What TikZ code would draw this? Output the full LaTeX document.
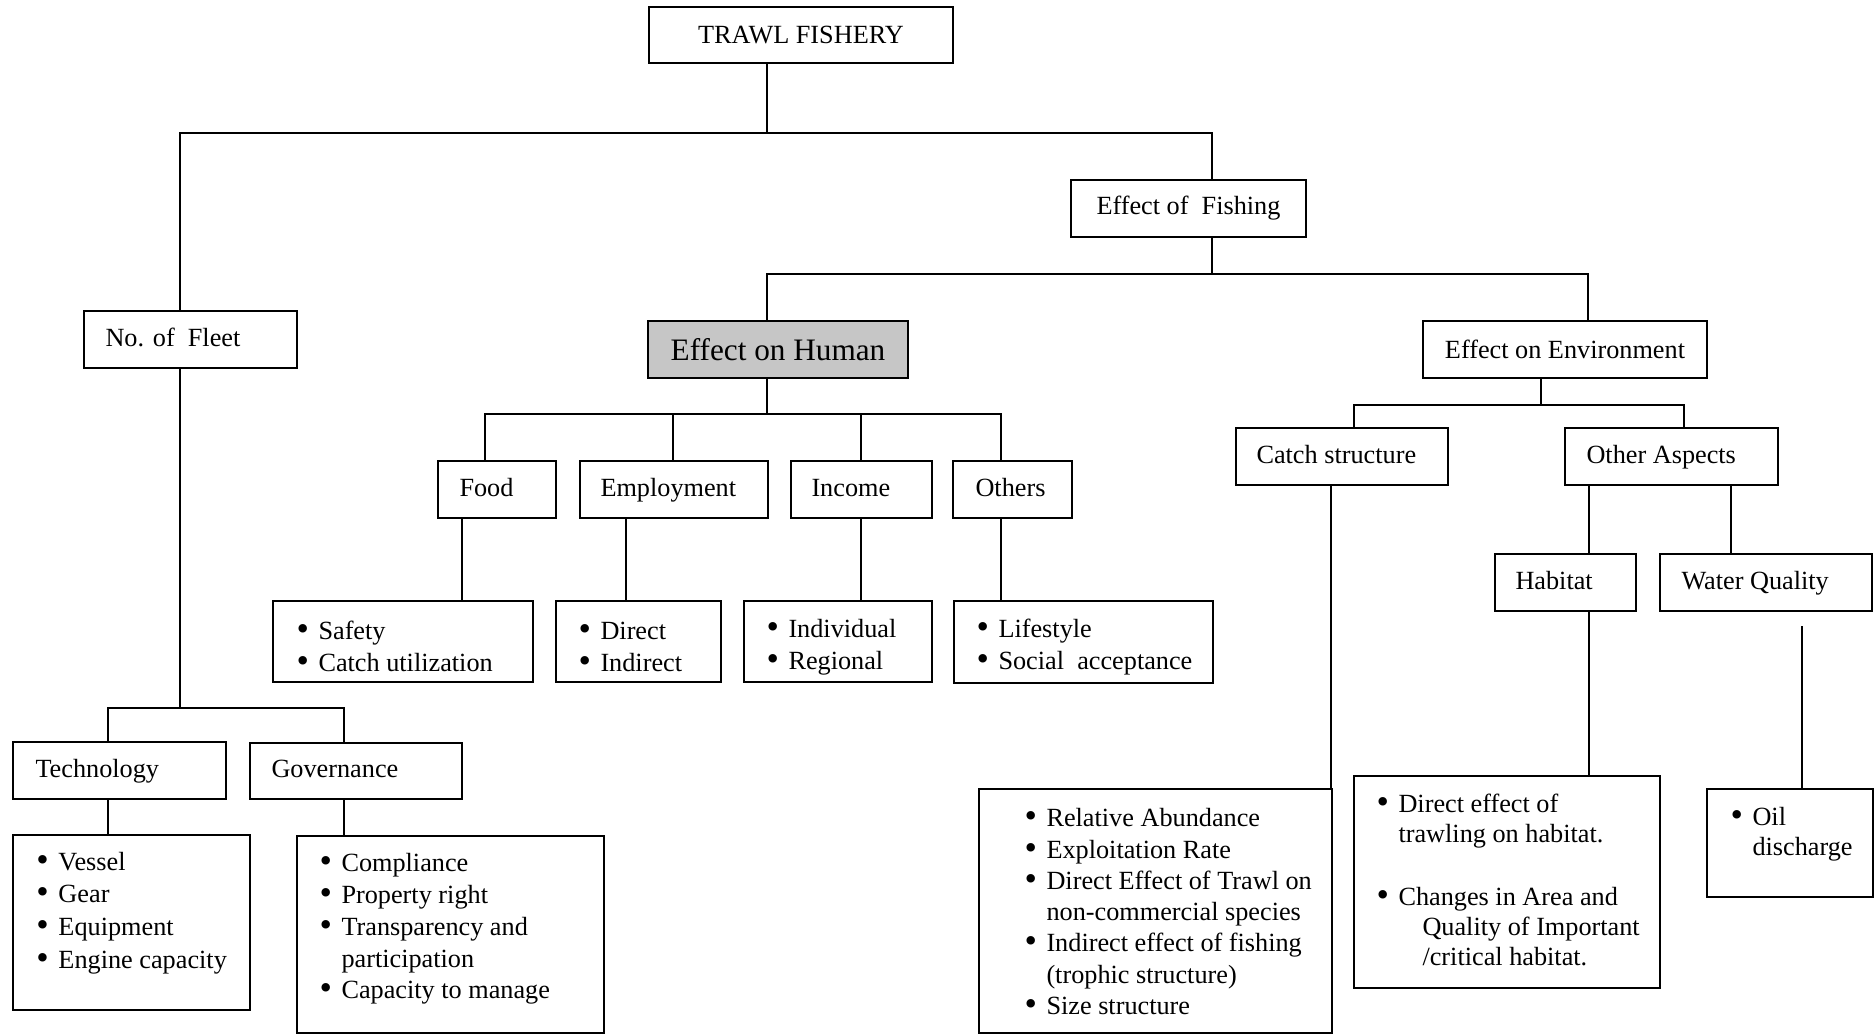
\documentclass[tikz,border=0pt]{standalone}
\usepackage{fontspec}
\setmainfont{Liberation Serif}
\newcommand\bul{\makebox[8.8pt][l]{\raisebox{-0.35pt}{\scalebox{1.35}{\textbullet}}}}
\newcommand\bcont{\hspace*{8.8pt}}
% name, x1, y1, x2, y2, extra style, content
\newcommand\mkbox[7]{%
  \pgfmathsetmacro\mbW{(#4-#2)*0.4}%
  \pgfmathsetmacro\mbH{(#5-#3)*0.4}%
  \node[box, minimum width=\mbW pt, minimum height=\mbH pt, #6] (#1) at ({(#2+#4)/2},{(#3+#5)/2}) {#7};}
\begin{document}
\begin{tikzpicture}[x=0.4pt,y=-0.4pt,
  box/.style={draw, line width=0.9pt, inner sep=0pt, align=center,
    font=\fontsize{10.5}{12.7}\selectfont},
  txt/.style={anchor=west, inner sep=0pt, align=left,
    font=\fontsize{10.5}{12.7}\selectfont},
  lab/.style={txt, text height=7.3pt, text depth=2.3pt},
  conn/.style={line width=0.7pt}]
\useasboundingbox (0,0) rectangle (1875,1035);

% boxes
\mkbox{top}{649}{7}{953}{63}{}{TRAWL FISHERY}
\mkbox{fish}{1071}{180}{1306}{237}{}{Effect of~ Fishing}
\mkbox{fleet}{84}{311}{297}{368}{}{}
\mkbox{human}{648}{321}{908}{378}{fill=gray!45, font=\fontsize{12.5}{14}\selectfont}{Effect on Human}
\mkbox{env}{1423}{321}{1707}{378}{}{Effect on Environment}
\mkbox{tech}{13}{742}{226}{799}{}{}
\mkbox{gov}{250}{743}{462}{799}{}{}
\mkbox{techL}{13}{835}{250}{1010}{}{}
\mkbox{govL}{297}{836}{604}{1033}{}{}
\mkbox{food}{438}{461}{556}{518}{}{}
\mkbox{emp}{580}{461}{768}{518}{}{}
\mkbox{inc}{791}{461}{932}{518}{}{}
\mkbox{oth}{953}{461}{1072}{518}{}{}
\mkbox{foodL}{273}{601}{533}{682}{}{}
\mkbox{empL}{556}{601}{721}{682}{}{}
\mkbox{incL}{744}{601}{932}{682}{}{}
\mkbox{othL}{954}{601}{1213}{683}{}{}
\mkbox{catch}{1236}{428}{1448}{485}{}{}
\mkbox{other}{1565}{428}{1778}{485}{}{}
\mkbox{hab}{1495}{554}{1636}{611}{}{}
\mkbox{wq}{1660}{554}{1872}{611}{}{}
\mkbox{catchL}{979}{789}{1332}{1033}{}{}
\mkbox{habL}{1354}{776}{1660}{988}{}{}
\mkbox{wqL}{1707}{789}{1873}{897}{}{}

% texts
\node[lab] (fleet-t) at (105,340) {No. of~ Fleet};
\node[lab] (tech-t) at (35,771) {Technology};
\node[lab] (gov-t) at (271,771) {Governance};
\node[lab] (food-t) at (459,490) {Food};
\node[lab] (emp-t) at (600,490) {Employment};
\node[lab] (inc-t) at (811,490) {Income};
\node[lab] (oth-t) at (975,490) {Others};
\node[lab] (catch-t) at (1256,457) {Catch structure};
\node[lab] (other-t) at (1586,457) {Other Aspects};
\node[lab] (hab-t) at (1515,583) {Habitat};
\node[lab] (wq-t) at (1681,583) {Water Quality};

\node[txt, font=\fontsize{10.5}{13.1}\selectfont] (techL-t) at (36,913)
  {\bul Vessel\\\bul Gear\\\bul Equipment\\\bul Engine capacity};
\node[txt] (govL-t) at (319,929)
  {\bul Compliance\\\bul Property right\\\bul Transparency and\\\bcont participation\\\bul Capacity to manage};
\node[txt] (foodL-t) at (296,647) {\bul Safety\\\bul Catch utilization};
\node[txt] (empL-t) at (578,647) {\bul Direct\\\bul Indirect};
\node[txt] (incL-t) at (766,647) {\bul Individual\\\bul Regional};
\node[txt] (othL-t) at (976,647) {\bul Lifestyle\\\bul Social~ acceptance};
\node[txt, font=\fontsize{10.5}{12.5}\selectfont] (catchL-t) at (1024,912)
  {\bul Relative Abundance\\\bul Exploitation Rate\\\bul Direct Effect of Trawl on\\\bcont non-commercial species\\\bul Indirect effect of fishing\\\bcont (trophic structure)\\\bul Size structure};
\node[txt, font=\fontsize{10.5}{12}\selectfont] (habL-t) at (1376,880)
  {\bul Direct effect of\\\bcont trawling on habitat.\\[13pt]\bul Changes in Area and\\\bcont\hspace*{9.6pt}Quality of Important\\\bcont\hspace*{9.6pt}/critical habitat.};
\node[txt, font=\fontsize{10.5}{12}\selectfont] (wqL-t) at (1730,834)
  {\bul Oil\\\bcont discharge};

% connectors
\draw[conn] (top.south -| 767,0) -- (767,133);
\draw[conn] (fleet.north -| 180,0) -- (180,133) -- (1212,133) -- (fish.north -| 1212,0);
\draw[conn] (fleet.south -| 180,0) -- (180,708);
\draw[conn] (tech.north -| 108,0) -- (108,708) -- (344,708) -- (gov.north -| 344,0);
\draw[conn] (tech.south -| 108,0) -- (techL.north -| 108,0);
\draw[conn] (gov.south -| 344,0) -- (govL.north -| 344,0);

\draw[conn] (fish.south -| 1212,0) -- (1212,274);
\draw[conn] (human.north -| 767,0) -- (767,274) -- (1588,274) -- (env.north -| 1588,0);
\draw[conn] (human.south -| 767,0) -- (767,414);
\draw[conn] (food.north -| 485,0) -- (485,414) -- (1001,414) -- (oth.north -| 1001,0);
\draw[conn] (emp.north -| 673,0) -- (673,414);
\draw[conn] (inc.north -| 861,0) -- (861,414);
\draw[conn] (food.south -| 462,0) -- (foodL.north -| 462,0);
\draw[conn] (emp.south -| 626,0) -- (empL.north -| 626,0);
\draw[conn] (inc.south -| 861,0) -- (incL.north -| 861,0);
\draw[conn] (oth.south -| 1001,0) -- (othL.north -| 1001,0);

\draw[conn] (env.south -| 1541,0) -- (1541,405);
\draw[conn] (catch.north -| 1354,0) -- (1354,405) -- (1684,405) -- (other.north -| 1684,0);
\draw[conn] (other.south -| 1589,0) -- (hab.north -| 1589,0);
\draw[conn] (other.south -| 1731,0) -- (wq.north -| 1731,0);
\draw[conn] (catch.south -| 1331,0) -- (catchL.north -| 1331,0);
\draw[conn] (hab.south -| 1589,0) -- (habL.north -| 1589,0);
\draw[conn] ([yshift=-5.6pt]wq.south -| 1802,0) -- (wqL.north -| 1802,0);
\end{tikzpicture}
\end{document}
